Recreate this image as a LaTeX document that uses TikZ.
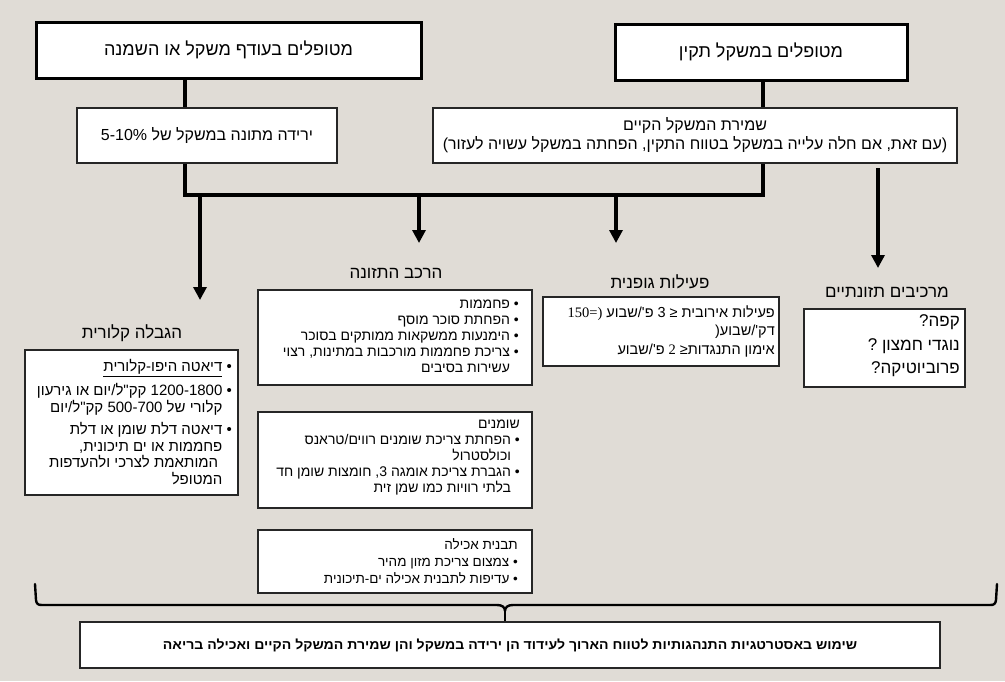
\documentclass[tikz,border=0pt]{standalone}
\usepackage{fontspec}
\usepackage{graphicx}
\usetikzlibrary{arrows.meta}
\setmainfont{Liberation Sans}
\newfontfamily\heb[Script=Hebrew]{Liberation Sans}
\newfontfamily\sernum{Liberation Serif}
\TeXXeTstate=1
\definecolor{paper}{RGB}{224,220,214}
\newcommand\RL[1]{\beginR#1\endR}
\newcommand\LRx[1]{\beginL#1\endL{}}
\newcommand\fs[2]{\fontsize{#1}{#2}\selectfont}
\newcommand\ind{\phantom{•\ }}
\newcommand\ul[1]{\vtop{\hbox{#1}\kern1.2pt\hrule height0.7pt}}

\tikzset{
  bigbox/.style={draw=black, line width=3pt, fill=white, inner sep=0pt},
  smallbox/.style={draw=black!85, line width=1.3pt, fill=white, inner sep=0pt},
  txt/.style={inner sep=0pt, font=\heb},
  heading/.style={inner sep=0pt, font={\heb\fs{17}{20}}},
  conn/.style={line width=3.5pt, line join=miter},
  arr/.style={line width=3.2pt, -{Triangle[width=13pt,length=13pt]}},
  brace/.style={line width=2.4pt, line join=round, line cap=round},
}

\begin{document}
\begin{tikzpicture}[x=1pt,y=-1pt]
\fill[paper] (0,0) rectangle (1005,681);
\useasboundingbox (0,0) rectangle (1005,681);

% top level boxes
\node[bigbox, minimum width=385pt, minimum height=56pt] (A) at (228.5,50) {};
\node[txt, font={\heb\fs{18}{22}}] (At) at (A.center) {\RL{מטופלים בעודף משקל או השמנה}};
\node[bigbox, minimum width=292pt, minimum height=56pt] (B) at (761,52) {};
\node[txt, font={\heb\fs{18}{22}}] (Bt) at (B.center) {\RL{מטופלים במשקל תקין}};

% goals
\node[smallbox, minimum width=260pt, minimum height=55pt] (C) at (207,135.5) {};
\node[txt, font={\heb\fs{16}{19}}] (Ct) at (C.center) {\RL{ירידה מתונה במשקל של \LRx{5-10\%}}};
\node[smallbox, minimum width=524pt, minimum height=55pt] (D) at (695,135.5) {};
\node[txt, font={\heb\fs{16}{19}}, align=center] (Dt) at (D.center)
  {\RL{שמירת המשקל הקיים}\\
   \RL{(עם זאת, אם חלה עלייה במשקל בטווח התקין, הפחתה במשקל עשויה לעזור)}};

% connectors between the levels
\coordinate (jL) at (185,195);
\coordinate (jR) at (763,195);
\draw[conn] (A.south -| jL) -- (C.north -| jL);
\draw[conn] (B.south -| jR) -- (D.north -| jR);
\draw[conn] (C.south -| jL) -- (jL) -- (jR) -- (D.south -| jR);

% branch arrows
\coordinate (s1) at (200,195);  \coordinate (t1) at (200,300);
\coordinate (s2) at (419,195);  \coordinate (t2) at (419,243);
\coordinate (s3) at (616,195);  \coordinate (t3) at (616,243);
\coordinate (s4) at (878,168);  \coordinate (t4) at (878,268);
\draw[arr] (s1) -- (t1);
\draw[arr] (s2) -- (t2);
\draw[arr] (s3) -- (t3);
\draw[arr] (s4) -- (t4);

% headings
\node[heading] (hE) at (132,333) {\RL{הגבלה קלורית}};
\node[heading] (hF) at (396,273) {\RL{הרכב התזונה}};
\node[heading] (hI) at (660,282) {\RL{פעילות גופנית}};
\node[heading] (hJ) at (887,292) {\RL{מרכיבים תזונתיים}};

% caloric restriction
\node[smallbox, minimum width=213pt, minimum height=145pt] (E) at (131.5,422.5) {};
\node[txt, font={\heb\fs{15}{16.5}}, align=right, anchor=east] (Et) at (232,422)
  {\RL{•\ \ul{\RL{דיאטה היפו-קלורית}}}\\[6pt]
   \RL{•\ \LRx{1200-1800} קק"ל/יום או גירעון}\\
   \RL{\ind קלורי של \LRx{500-700} קק"ל/יום}\\[6pt]
   \RL{•\ דיאטה דלת שומן או דלת}\\
   \RL{\ind פחממות או ים תיכונית,}\\
   \RL{\ind\ המותאמת לצרכי ולהעדפות}\\
   \RL{\ind המטופל}};

% diet composition
\node[smallbox, minimum width=274pt, minimum height=95pt] (F) at (395,337.5) {};
\node[txt, font={\heb\fs{14}{16}}, align=right, anchor=east] (Ft) at (519,336)
  {\RL{•\ פחממות}\\
   \RL{•\ הפחתת סוכר מוסף}\\
   \RL{•\ הימנעות ממשקאות ממותקים בסוכר}\\
   \RL{•\ צריכת פחממות מורכבות במתינות, רצוי}\\
   \RL{\ind עשירות בסיבים}};
\node[smallbox, minimum width=274pt, minimum height=96pt] (G) at (395,460) {};
\node[txt, font={\heb\fs{14}{16}}, align=right, anchor=east] (Gt) at (520,458)
  {\RL{שומנים}\\
   \RL{•\ הפחתת צריכת שומנים רווים/טראנס}\\
   \RL{\ind וכולסטרול}\\
   \RL{•\ הגברת צריכת אומגה \LRx{3}, חומצות שומן חד}\\
   \RL{\ind בלתי רוויות כמו שמן זית}};
\node[smallbox, minimum width=274pt, minimum height=63pt] (H) at (395,561.5) {};
\node[txt, font={\heb\fs{13.5}{17}}, align=right, anchor=east] (Ht) at (518,561)
  {\RL{תבנית אכילה}\\
   \RL{•\ צמצום צריכת מזון מהיר}\\
   \RL{•\ עדיפות לתבנית אכילה ים-תיכונית}};

% physical activity
\node[smallbox, minimum width=236pt, minimum height=69pt] (I) at (661,331.5) {};
\node[txt, font={\heb\fs{14.5}{18.5}}, align=right, anchor=east] (It) at (775,331)
  {{\sernum 150=)}\ \RL{פ'/שבוע}\ 3 ≤ \RL{פעילות אירובית}\\
   (\RL{דק'/שבוע}\\
   \RL{פ'/שבוע}\ {\sernum 2} ≤\RL{התנגדות}\ \RL{אימון}};

% supplements
\node[smallbox, minimum width=161pt, minimum height=78pt] (J) at (884.5,348) {};
\node[txt, font={\heb\fs{17}{23.5}}, align=right, anchor=east] (Jt) at (960,346)
  {\RL{קפה?}\\ \RL{נוגדי חמצון ?}\\ \RL{פרוביוטיקה?}};

% summary brace and box
\draw[brace] (35,584) -- (36,600) .. controls (36.5,604) and (38,605) .. (42,605)
  -- (497,605) .. controls (502,605) and (505,607) .. (505,611)
  .. controls (505,607) and (508,605) .. (513,605)
  -- (990,605) .. controls (994,605) and (995.5,604) .. (996,600) -- (997,584);
\coordinate (tip) at (505,611);
\node[smallbox, minimum width=860pt, minimum height=46pt] (K) at (510,645) {};
\draw[brace, line cap=butt] (tip) -- (K.north -| tip);
\node[txt, font={\heb\bfseries\fs{13}{16}}] (Kt) at (K.center)
  {\resizebox{694pt}{\height}{\RL{שימוש באסטרטגיות התנהגותיות לטווח הארוך לעידוד הן ירידה במשקל והן שמירת המשקל הקיים ואכילה בריאה}}};
\end{tikzpicture}
\end{document}
